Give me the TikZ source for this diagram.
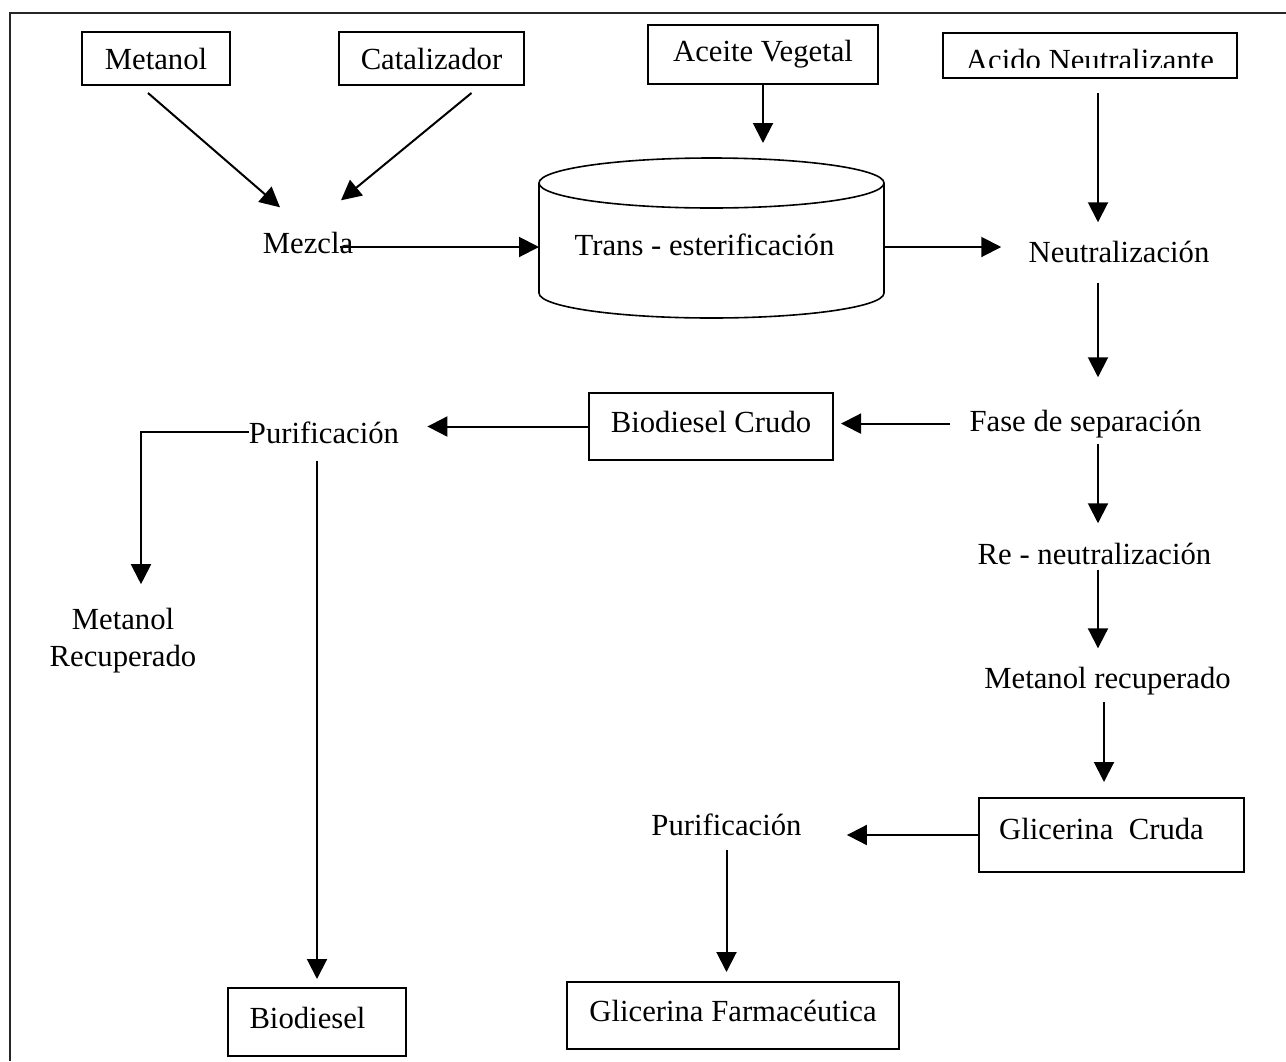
\documentclass[tikz,border=0pt]{standalone}
\usepackage{fontspec}
\setmainfont{Liberation Serif}
\usetikzlibrary{arrows.meta}

\begin{document}
\begin{tikzpicture}[x=0.5pt, y=-0.5pt, >={Triangle[length=10pt,width=10pt]},
    font=\fontsize{15.35}{18.5}\selectfont,
    caja/.style={draw, line width=1pt, inner sep=0pt},
    paso/.style={inner sep=0pt, anchor=base},
    flecha/.style={->, line width=1pt}]
    \useasboundingbox (0,0) rectangle (1286,1061);

    % 1. Marco
    \draw[line width=1.2pt, black!85] (1286,13) -- (10,13) -- (10,1061);

    % 2. Materias primas
    \node[caja, minimum width=74pt, minimum height=26.5pt] (metanol) at (156,58.5) {Metanol};
    \node[caja, minimum width=92.5pt, minimum height=26.5pt] (catal) at (431.5,58.5) {Catalizador};
    \node[caja, minimum width=115pt, minimum height=29.5pt] (aceite) at (763,54.5) {Aceite Vegetal};
    \node[caja, minimum width=147pt, minimum height=22.5pt] (acido) at (1090,55.5) {};
    \begin{scope}
        \clip (943,33) rectangle (1237,67);
        \node[paso] (acidotxt) at (1090,70) {Acido Neutralizante};
    \end{scope}

    % 3. Reactor (cilindro)
    \draw[line width=0.8pt] (711.5,183) ellipse [x radius=86.25pt, y radius=12.5pt];
    \draw[line width=0.8pt] (539,183) -- (539,293)
        arc[start angle=180, end angle=360, x radius=86.25pt, y radius=12.5pt] -- (884,183);
    \coordinate (cilIzq) at (539,247);
    \coordinate (cilDer) at (884,247);
    \coordinate (cilSup) at (763,158);
    \node[paso] (trans) at (704.5,255) {Trans - esterificación};

    % 4. Etapas del proceso
    \node[paso] (mezcla) at (308,253) {Mezcla};
    \node[paso] (neutral) at (1119,262) {Neutralización};
    \node[paso] (fase) at (1085.5,431) {Fase de separación};
    \node[paso] (reneut) at (1094.5,564) {Re - neutralización};
    \node[paso] (metrec) at (1107.5,688) {Metanol recuperado};
    \node[paso] (puri1) at (324,443) {Purificación};
    \node[paso] (puri2) at (726.5,835) {Purificación};
    \node[inner sep=0pt, align=center] (metrec2) at (123,641) {Metanol\\Recuperado};

    % 5. Productos
    \node[caja, minimum width=122pt, minimum height=33.5pt, text depth=4.5pt] (crudo) at (711,426.5) {Biodiesel Crudo};
    \node[caja, minimum width=132.5pt, minimum height=37pt, text depth=6pt] (gcruda) at (1111.5,835) {Glicerina\ \ Cruda\hspace*{10pt}\null};
    \node[caja, minimum width=166pt, minimum height=33.5pt, text depth=4.5pt] (gfarm) at (733,1015.5) {Glicerina Farmacéutica};
    \node[caja, minimum width=89pt, minimum height=34pt, text depth=4.5pt] (biodiesel) at (317,1022) {Biodiesel\hspace*{9.5pt}\null};

    % 6. Flechas
    \draw[flecha] ([xshift=-4pt,yshift=-3.5pt]metanol.south) -- ([xshift=-14pt,yshift=12pt]mezcla.north);
    \draw[flecha] ([xshift=20pt,yshift=-3.5pt]catal.south) -- ([xshift=16.5pt,yshift=15.5pt]mezcla.north);
    \draw[flecha, shorten <=-7pt] (mezcla.east |- cilIzq) -- (cilIzq);
    \draw[flecha, shorten >=7.5pt] (aceite.south) -- (cilSup);
    \draw[flecha, shorten >=13.5pt] (cilDer) -- (cilDer -| neutral.west);

    \coordinate (colA) at (1098,0);
    \coordinate (colB) at (1104,0);
    \draw[flecha, shorten <=7pt, shorten >=9pt] (colA |- acido.south) -- (colA |- neutral.north);
    \draw[flecha, shorten <=10pt, shorten >=16pt] (colA |- neutral.south) -- (colA |- fase.north);
    \draw[flecha, shorten <=3pt, shorten >=9.5pt] (colA |- fase.south) -- (colA |- reneut.north);
    \draw[flecha, shorten <=2.5pt, shorten >=9pt] (colA |- reneut.south) -- (colA |- metrec.north);
    \draw[flecha, shorten <=3.5pt, shorten >=7.5pt] (colB |- metrec.south) -- (colB |- gcruda.north);

    \draw[flecha, shorten <=9.5pt, shorten >=3.5pt] (fase.west) -- (fase.west -| crudo.east);
    \draw[flecha, shorten >=14pt] (crudo.west) -- (crudo.west -| puri1.east);
    \draw[flecha, shorten >=12pt] (puri1.west) -| ([xshift=9pt]metrec2.north);
    \draw[flecha, shorten <=8.5pt, shorten >=4pt] (biodiesel.north |- puri1.south) -- (biodiesel.north);

    \draw[flecha, shorten >=22.5pt] (gcruda.west) -- (gcruda.west -| puri2.east);
    \draw[flecha, shorten <=7pt, shorten >=4.5pt] (puri2.south) -- (puri2.south |- gfarm.north);

\end{tikzpicture}
\end{document}
